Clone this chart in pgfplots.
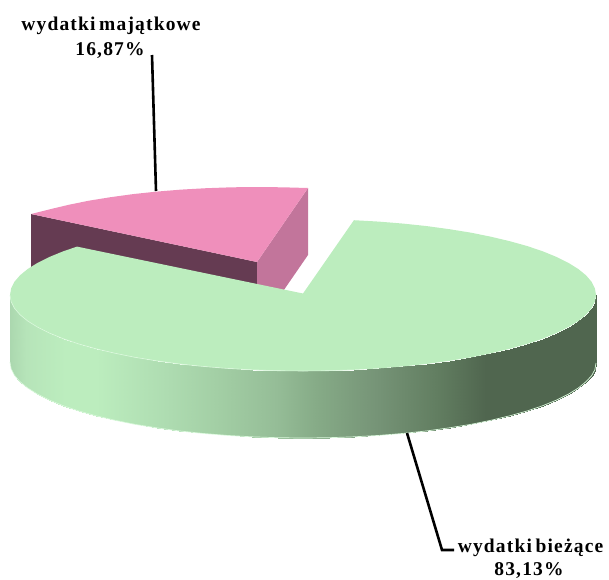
\documentclass[border=0pt]{standalone}
\usepackage{fontspec}
\setmainfont[LetterSpace=6,WordSpace=0.6]{Liberation Serif}
\usepackage{pgfplots}
\pgfplotsset{compat=1.18}
\definecolor{greentop}{RGB}{188,237,190}
\definecolor{greenedge}{RGB}{218,248,220}
\definecolor{pinktop}{RGB}{239,143,187}
\definecolor{pinkdark}{RGB}{101,59,82}
\definecolor{pinkside}{RGB}{194,117,155}
\begin{document}
\begin{tikzpicture}
\useasboundingbox (0,0) rectangle (609pt,579pt);
\begin{axis}[
    scale only axis,
    width=609pt, height=579pt,
    xmin=0, xmax=609,
    ymin=0, ymax=579,
    y dir=reverse,
    hide axis,
    clip=false,
    colormap={side}{
        rgb255(0pt)=(168,212,172)
        rgb255(20pt)=(182,228,185)
        rgb255(60pt)=(188,237,190)
        rgb255(90pt)=(188,237,190)
        rgb255(160pt)=(174,220,177)
        rgb255(210pt)=(163,207,165)
        rgb255(270pt)=(149,189,151)
        rgb255(310pt)=(134,171,135)
        rgb255(370pt)=(118,148,119)
        rgb255(430pt)=(98,126,97)
        rgb255(480pt)=(80,102,79)
        rgb255(590pt)=(80,102,79)
    },
]
% pink slice, side walls first
\addplot[fill=pinkdark, draw=none] coordinates {(31,214)(257,262)(257,329)(31,281)};
\addplot[fill=pinkside, draw=none] coordinates {(257,262)(308,188)(308,255)(257,329)};
\addplot[fill=pinktop, draw=none] coordinates {
    (31,214)(49.8,209.3)(68.7,204.8)(88.8,200.7)(110.5,197.2)(133.1,194.1)
    (156.8,191.6)(181.1,189.6)(206.1,188.2)(231.5,187.3)(257,187)(282.5,187.3)(308,188)
    (257,262)};
% green slice, rim as a two row mesh
\addplot[surf, shader=interp, mesh/rows=2, point meta=x, point meta min=6, point meta max=596, draw=none]
    table[row sep=\\] {
    596 295\\ 594.9 301.6\\ 591.6 308.2\\ 586 314.7\\ 578.3 321\\ 568.5 327.1\\ 556.7 333\\ 543 338.6\\
    527.4 343.9\\ 510.2 348.7\\ 491.3 353.2\\ 471.2 357.3\\ 449.5 360.8\\ 426.9 363.9\\ 403.2 366.4\\
    378.9 368.4\\ 353.9 369.8\\ 328.5 370.7\\ 303 371\\ 277.5 370.7\\ 252.1 369.8\\ 227.1 368.4\\
    202.8 366.4\\ 179.1 363.9\\ 156.5 360.8\\ 134.8 357.3\\ 114.7 353.2\\ 95.8 348.7\\ 78.6 343.9\\
    63 338.6\\ 49.3 333\\ 37.5 327.1\\ 27.7 321\\ 20 314.7\\ 14.4 308.2\\ 11.1 301.6\\ 10 295\\
    596 363\\ 594.9 369.6\\ 591.6 375.7\\ 586 381.7\\ 578.3 388\\ 568.5 394.1\\ 556.7 400\\ 543 405.6\\
    527.4 410.9\\ 510.2 415.7\\ 491.3 420.2\\ 471.2 424.3\\ 449.5 427.8\\ 426.9 430.9\\ 403.2 433.4\\
    378.9 435.4\\ 353.9 436.8\\ 328.5 437.7\\ 303 438\\ 277.5 437.7\\ 252.1 436.8\\ 227.1 435.4\\
    202.8 433.4\\ 179.1 430.9\\ 156.5 427.8\\ 134.8 424.3\\ 114.7 420.2\\ 95.8 415.7\\ 78.6 410.9\\
    63 405.6\\ 49.3 400\\ 37.5 394.1\\ 27.7 388\\ 20 381.7\\ 14.4 375.2\\ 11.1 368.6\\ 10 362\\
    };
% pale fringe round the lower rim
\addplot[draw=greenedge, line width=0.7pt] coordinates {
    (596,363)(594.9,369.6)(591.6,375.7)(586,381.7)(578.3,388)(568.5,394.1)(556.7,400)(543,405.6)
    (527.4,410.9)(510.2,415.7)(491.3,420.2)(471.2,424.3)(449.5,427.8)(426.9,430.9)(403.2,433.4)
    (378.9,435.4)(353.9,436.8)(328.5,437.7)(303,438)(277.5,437.7)(252.1,436.8)(227.1,435.4)
    (202.8,433.4)(179.1,430.9)(156.5,427.8)(134.8,424.3)(114.7,420.2)(95.8,415.7)(78.6,410.9)
    (63,405.6)(49.3,400)(37.5,394.1)(27.7,388)(20,381.7)(14.4,375.2)(11.1,368.6)(10,362)};
\addplot[fill=greentop, draw=none] coordinates {
    (353.9,220.2)(378.9,221.6)(403.2,223.6)(426.9,226.1)(449.5,229.2)(471.2,232.7)(491.3,236.8)
    (510.2,241.3)(527.4,246.1)(543,251.4)(556.7,257)(568.5,262.9)(578.3,269)(586,275.3)(591.6,281.8)
    (594.9,288.4)(596,295)(594.9,301.6)(591.6,308.2)(586,314.7)(578.3,321)(568.5,327.1)(556.7,333)
    (543,338.6)(527.4,343.9)(510.2,348.7)(491.3,353.2)(471.2,357.3)(449.5,360.8)(426.9,363.9)
    (403.2,366.4)(378.9,368.4)(353.9,369.8)(328.5,370.7)(303,371)(277.5,370.7)(252.1,369.8)
    (227.1,368.4)(202.8,366.4)(179.1,363.9)(156.5,360.8)(134.8,357.3)(114.7,353.2)(95.8,348.7)
    (78.6,343.9)(63,338.6)(49.3,333)(37.5,327.1)(27.7,321)(20,314.7)(14.4,308.2)(11.1,301.6)(10,295)
    (11.1,288.4)(14.4,281.8)(20,275.3)(27.7,269)(37.5,262.9)(49.3,257)(63,251.4)(77,246.6)
    (303,293.5)};
% pale fringe where the top meets the rim
\addplot[draw=greenedge, line width=0.6pt] coordinates {
    (353.9,369.8)(328.5,370.7)(303,371)(277.5,370.7)(252.1,369.8)
    (227.1,368.4)(202.8,366.4)(179.1,363.9)(156.5,360.8)(134.8,357.3)(114.7,353.2)(95.8,348.7)
    (78.6,343.9)(63,338.6)(49.3,333)(37.5,327.1)(27.7,321)(20,314.7)(14.4,308.2)(11.1,301.6)(10,295)};
% leader lines
\addplot[black, line width=2.6pt] coordinates {(152,55)(156,191)};
\addplot[black, line width=2.6pt] coordinates {(407,433)(442,550)(454,550)};
\node[anchor=base, font=\fontsize{19.5}{24}\selectfont\bfseries] at (axis cs:111,30) {wydatki majątkowe};
\node[anchor=base, font=\fontsize{19.5}{24}\selectfont\bfseries] at (axis cs:110,55) {16,87\%};
\node[anchor=base, font=\fontsize{19.5}{24}\selectfont\bfseries] at (axis cs:530.5,552) {wydatki bieżące};
\node[anchor=base, font=\fontsize{19.5}{24}\selectfont\bfseries] at (axis cs:529,575) {83,13\%};
\end{axis}
\end{tikzpicture}
\end{document}
